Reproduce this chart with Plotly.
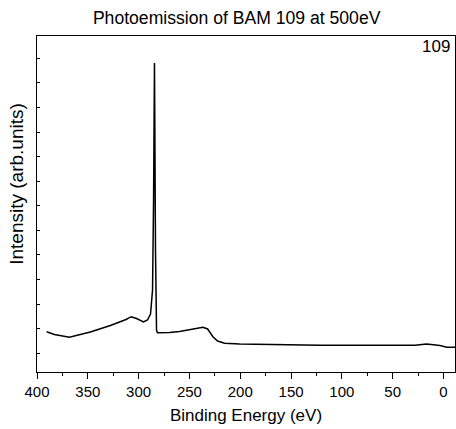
import plotly.graph_objects as go

binding_energy = [390.5, 382.9, 368.2, 347.5, 327.8, 312.4, 307.3, 302.1, 295.2, 291.3,
                  288.3, 286.3, 285.3, 284.4, 283.4, 282.4, 281.5, 269.6, 259.7, 247.9,
                  236.8, 232.1, 226.9, 222.3, 215.4, 200.6, 180.9, 141.4, 121.7, 62.6,
                  28.1, 16.6, 8.4, 3.5, -3.2, -11.3]
intensity = [4030, 3750, 3470, 4000, 4650, 5250, 5530, 5350, 5000, 5200,
             5800, 8200, 17200, 30900, 12200, 4200, 3930, 3950, 4050, 4250,
             4470, 4300, 3530, 3100, 2870, 2800, 2770, 2720, 2670, 2670,
             2680, 2800, 2720, 2650, 2470, 2470]
x_ticks = [400, 350, 300, 250, 200, 150, 100, 50, 0]

font = "Liberation Sans, Arial, sans-serif"

fig = go.Figure()
fig.add_trace(go.Scatter(x=binding_energy, y=intensity, mode="lines",
                         line=dict(color="black", width=1.5), showlegend=False))

fig.update_layout(
    width=456, height=429,
    margin=dict(l=37, r=1, t=36, b=57, autoexpand=False),
    paper_bgcolor="white", plot_bgcolor="white",
    font=dict(family=font, color="black", size=15),
    title=dict(text="Photoemission of BAM 109 at 500eV", x=0.519, xanchor="center",
               y=1 - 18 / 429, yanchor="middle", font=dict(size=17.6, family=font)),
    xaxis=dict(range=[400, -11.3], tickvals=x_ticks, ticks="outside", ticklen=6,
               tickwidth=1, tickcolor="black", showline=True, linecolor="black",
               linewidth=1, mirror=True, showgrid=False, zeroline=False,
               minor=dict(ticks="outside", ticklen=3, dtick=25, tick0=0, tickcolor="black"),
               title=dict(text="Binding Energy (eV)", font=dict(size=17), standoff=10),
               tickfont=dict(size=15)),
    yaxis=dict(range=[0, 33600], tick0=1870, dtick=2458, ticks="inside", ticklen=3,
               tickcolor="black", showticklabels=False, showline=True, linecolor="black",
               linewidth=1, mirror=True, showgrid=False, zeroline=False),
    annotations=[
        dict(text="109", xref="paper", yref="paper", x=0.992, y=0.968,
             xanchor="right", yanchor="middle", showarrow=False,
             font=dict(size=17, family=font)),
        dict(text="Intensity (arb.units)", xref="paper", yref="paper",
             x=-0.048, y=0.56, xanchor="center", yanchor="middle", textangle=-90,
             showarrow=False, font=dict(size=19, family=font)),
    ],
)

fig.write_html("out.html", config={"displayModeBar": False},
               post_script="document.body.style.margin='0';document.body.style.padding='0';")
